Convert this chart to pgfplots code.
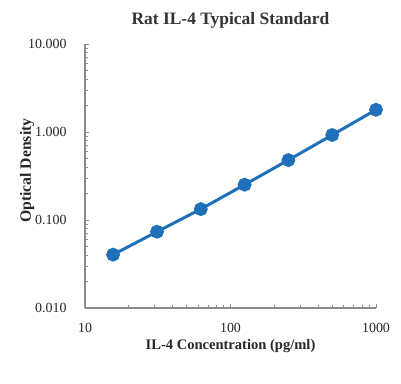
\documentclass[border=0pt]{standalone}
\usepackage{fontspec}
\setmainfont{Liberation Serif}
\usepackage{pgfplots}
\pgfplotsset{compat=1.18}
\definecolor{lineblue}{HTML}{1F70B8}
\definecolor{axgray}{HTML}{8C8C8C}
\begin{document}
\begin{tikzpicture}
\path[use as bounding box] (-85bp,-76bp) rectangle (316bp,308bp);
\begin{axis}[
  scale only axis,
  width=291bp, height=264bp,
  xmode=log, ymode=log,
  xmin=10, xmax=1000, ymin=0.01, ymax=10,
  axis lines*=left,
  axis line style={axgray, line width=1.2pt},
  every tick/.style={axgray, line width=0.8pt},
  tick align=inside,
  major tick length=4bp, minor tick length=3bp,
  xtick={10,100,1000}, xticklabels={10,100,1000},
  ytick={0.01,0.1,1,10}, yticklabels={0.010,0.100,1.000,10.000},
  tick label style={font=\fontsize{14}{16}\selectfont, text=black!85},
  yticklabel style={xshift=-15bp},
  xticklabel style={yshift=-12bp},
  /pgf/number format/assume math mode=true,
  title={\textbf{Rat IL-4 Typical Standard}},
  title style={font=\fontsize{17.5}{20}\selectfont, text=black!80, at={(axis description cs:0.5,1)}, anchor=base, yshift=14bp},
  xlabel={\textbf{IL-4 Concentration (pg/ml)}},
  ylabel={\textbf{Optical Density}},
  label style={font=\fontsize{14.6}{17}\selectfont, text=black!85},
  xlabel style={at={(axis description cs:0.5,0)}, anchor=base, yshift=-41bp},
  ylabel style={font=\fontsize{15.8}{18}\selectfont, at={(axis description cs:0,0.52)}, anchor=base, yshift=54bp},
  clip=false,
]
\addplot[color=lineblue, line width=3pt, mark=*, mark size=5.4bp, mark options={fill=lineblue, draw=lineblue}]
coordinates {
(15.6,0.0404)
(31.25,0.0736)
(62.5,0.133)
(125,0.252)
(250,0.48)
(500,0.925)
(1000,1.79)
};
\end{axis}
\end{tikzpicture}
\end{document}
